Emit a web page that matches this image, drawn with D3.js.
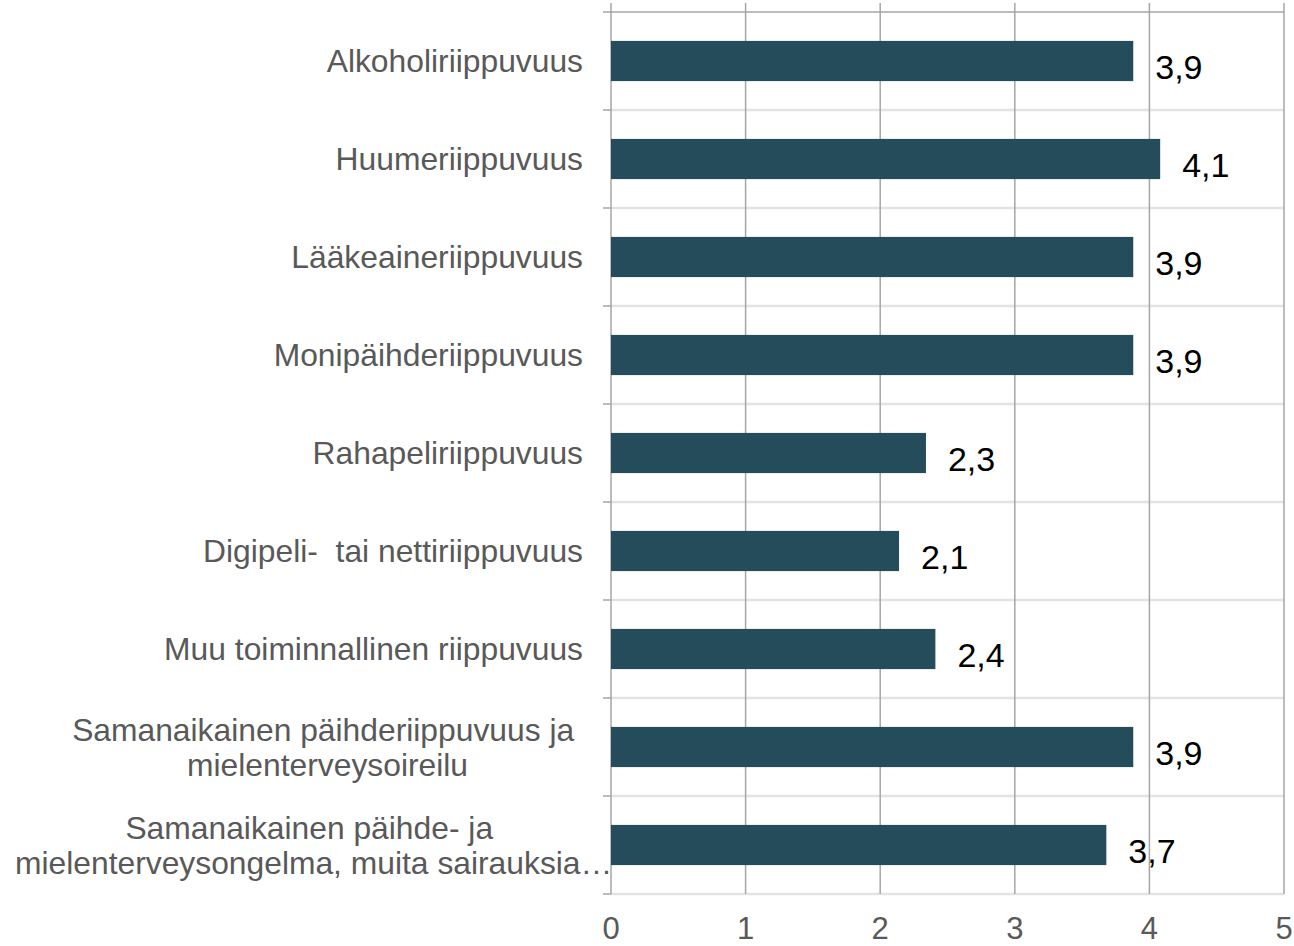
<!DOCTYPE html>
<html>
<head>
<meta charset="utf-8">
<script src="https://cdn.jsdelivr.net/npm/d3@7"></script>
<style>
  html, body { margin: 0; padding: 0; background: #fff; }
  svg { display: block; font-family: "Liberation Sans", Arial, sans-serif; }
</style>
</head>
<body>
<div id="chart"></div>
<script>
// categories (lines split where the original label wraps)
const categories = [
  ["Alkoholiriippuvuus"],
  ["Huumeriippuvuus"],
  ["Lääkeaineriippuvuus"],
  ["Monipäihderiippuvuus"],
  ["Rahapeliriippuvuus"],
  ["Digipeli-  tai nettiriippuvuus"],
  ["Muu toiminnallinen riippuvuus"],
  ["Samanaikainen päihderiippuvuus ja ", "mielenterveysoireilu"],
  ["Samanaikainen päihde- ja ", "mielenterveysongelma, muita sairauksia…"]
];
const values = [3.88, 4.08, 3.88, 3.88, 2.34, 2.14, 2.41, 3.88, 3.68];
const xTicks = [0, 1, 2, 3, 4, 5];

const width = 1294, height = 946;
const plot = { left: 611, right: 1284, top: 12, bottom: 894 };
const labelRight = 583, chartMargin = 15;

const svg = d3.select("#chart").append("svg")
    .attr("width", width)
    .attr("height", height)
    .attr("viewBox", [0, 0, width, height]);

const x = d3.scaleLinear().domain([0, 5]).range([plot.left, plot.right]);
const y = d3.scaleBand().domain(d3.range(categories.length)).range([plot.top, plot.bottom])
    .paddingInner(0.59).paddingOuter(0.295);
const step = y.step();

// category separators (light)
svg.append("g")
  .selectAll("line")
  .data(d3.range(1, categories.length + 1))
  .join("line")
    .attr("x1", plot.left).attr("x2", plot.right)
    .attr("y1", i => plot.top + i * step).attr("y2", i => plot.top + i * step)
    .attr("stroke", "#e3e3e3")
    .attr("stroke-width", 2.5);

// top line
svg.append("line")
    .attr("x1", plot.left - 8).attr("x2", plot.right)
    .attr("y1", plot.top).attr("y2", plot.top)
    .attr("stroke", "#a6a6a6").attr("stroke-width", 1.5);

// vertical grid
svg.append("g")
  .selectAll("line")
  .data(xTicks)
  .join("line")
    .attr("x1", d => x(d)).attr("x2", d => x(d))
    .attr("y1", 3).attr("y2", plot.bottom)
    .attr("stroke", "#a6a6a6")
    .attr("stroke-width", 1.5);

// left tick marks
svg.append("g")
  .selectAll("line")
  .data(d3.range(1, categories.length + 1))
  .join("line")
    .attr("x1", plot.left - 8).attr("x2", plot.left)
    .attr("y1", i => plot.top + i * step).attr("y2", i => plot.top + i * step)
    .attr("stroke", "#a6a6a6").attr("stroke-width", 1.5);

// bars
svg.append("g")
    .attr("fill", "#244c5a")
  .selectAll("rect")
  .data(values)
  .join("rect")
    .attr("x", x(0))
    .attr("y", (d, i) => y(i))
    .attr("width", d => x(d) - x(0))
    .attr("height", y.bandwidth());

// value labels
svg.append("g")
    .style("font-size", "34px")
    .attr("fill", "#000")
  .selectAll("text")
  .data(values)
  .join("text")
    .attr("x", d => x(d) + 22)
    .attr("y", (d, i) => y(i) + y.bandwidth() / 2 + 6)
    .attr("dy", "0.35em")
    .text(d => d3.format(".1f")(d).replace(".", ","));

// x tick labels
svg.append("g")
    .style("font-size", "31px")
    .attr("fill", "#595959")
    .attr("text-anchor", "middle")
  .selectAll("text")
  .data(xTicks)
  .join("text")
    .attr("x", d => x(d))
    .attr("y", 939)
    .text(d => d);

// category labels
const lineH = 35;
const cat = svg.append("g")
    .style("font-size", "31.8px")
    .attr("fill", "#595959")
  .selectAll("g")
  .data(categories)
  .join("g");

cat.each(function (lines, i) {
  const g = d3.select(this);
  const cy = y(i) + y.bandwidth() / 2;
  const texts = g.selectAll("text")
    .data(lines)
    .join("text")
      .attr("y", (d, k) => cy + (k - (lines.length - 1) / 2) * lineH)
      .attr("dy", "0.35em")
      .attr("xml:space", "preserve")
      .style("white-space", "pre")
      .text(d => d);
  if (lines.length === 1) {
    texts.attr("x", labelRight).attr("text-anchor", "end");
  } else {
    const w = d3.max(texts.nodes(), n => n.getComputedTextLength());
    const cx = Math.max(labelRight - w / 2, chartMargin + w / 2);
    texts.attr("x", cx).attr("text-anchor", "middle");
  }
});
</script>
</body>
</html>
